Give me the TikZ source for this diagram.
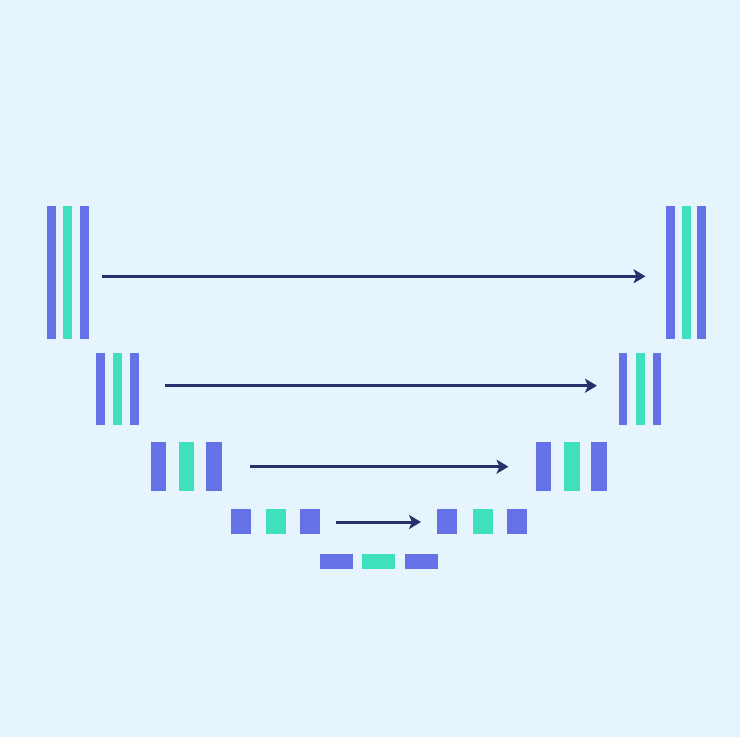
\documentclass[tikz,border=0pt]{standalone}
\usetikzlibrary{arrows.meta}
\definecolor{bgcol}{HTML}{E6F4FD}
\definecolor{barblue}{HTML}{6571E6}
\definecolor{bargreen}{HTML}{3EE0BD}
\definecolor{navy}{HTML}{27306B}
\tikzset{
  bar/.style={draw=none, inner sep=0pt, outer sep=0pt},
  bbar/.style={bar, fill=barblue},
  gbar/.style={bar, fill=bargreen},
  skip/.style={draw=navy, line width=3pt, -{Stealth[length=12pt,width=14pt,inset=3pt]}}
}
\begin{document}
\begin{tikzpicture}[x=1pt,y=-1pt]
\fill[bgcol] (0,0) rectangle (740,737);
\useasboundingbox (0,0) rectangle (740,737);
% level 1
\begin{scope}[every node/.append style={minimum width=8.7pt, minimum height=133pt}]
\node[bbar] (l1a) at (51.7,272.5) {};
\node[gbar] (l1b) at (67.8,272.5) {};
\node[bbar] (l1c) at (84.8,272.5) {};
\node[bbar] (r1a) at (670.7,272.5) {};
\node[gbar] (r1b) at (686.4,272.5) {};
\node[bbar] (r1c) at (701.3,272.5) {};
\end{scope}
% level 2
\begin{scope}[every node/.append style={minimum width=8.8pt, minimum height=72.3pt}]
\node[bbar] (l2a) at (100.5,388.9) {};
\node[gbar] (l2b) at (117.5,388.9) {};
\node[bbar] (l2c) at (134.5,388.9) {};
\node[bbar] (r2a) at (623,388.9) {};
\node[gbar] (r2b) at (640.5,388.9) {};
\node[bbar] (r2c) at (657,388.9) {};
\end{scope}
% level 3
\begin{scope}[every node/.append style={minimum width=15.7pt, minimum height=49.3pt}]
\node[bbar] (l3a) at (158.5,466.4) {};
\node[gbar] (l3b) at (186.5,466.4) {};
\node[bbar] (l3c) at (214.2,466.4) {};
\node[bbar] (r3a) at (543.5,466.4) {};
\node[gbar] (r3b) at (571.7,466.4) {};
\node[bbar] (r3c) at (599.2,466.4) {};
\end{scope}
% level 4
\begin{scope}[every node/.append style={minimum width=20pt, minimum height=24.7pt}]
\node[bbar] (l4a) at (240.5,521.7) {};
\node[gbar] (l4b) at (275.5,521.7) {};
\node[bbar] (l4c) at (310,521.7) {};
\node[bbar] (r4a) at (447.3,521.7) {};
\node[gbar] (r4b) at (482.5,521.7) {};
\node[bbar] (r4c) at (517,521.7) {};
\end{scope}
% level 5
\begin{scope}[every node/.append style={minimum width=33pt, minimum height=14.7pt}]
\node[bbar] (b1) at (336.3,561.7) {};
\node[gbar] (b2) at (378.8,561.7) {};
\node[bbar] (b3) at (421.2,561.7) {};
\end{scope}
% skip connections
\coordinate (s1) at (102,276.3);
\coordinate (e1) at (645.5,276.3);
\coordinate (s2) at (165,385.7);
\coordinate (e2) at (597,385.7);
\coordinate (s3) at (250,466.7);
\coordinate (e3) at (508.5,466.7);
\coordinate (s4) at (336,522);
\coordinate (e4) at (421,522);
\draw[skip] (s1) -- (e1);
\draw[skip] (s2) -- (e2);
\draw[skip] (s3) -- (e3);
\draw[skip] (s4) -- (e4);
\end{tikzpicture}
\end{document}
